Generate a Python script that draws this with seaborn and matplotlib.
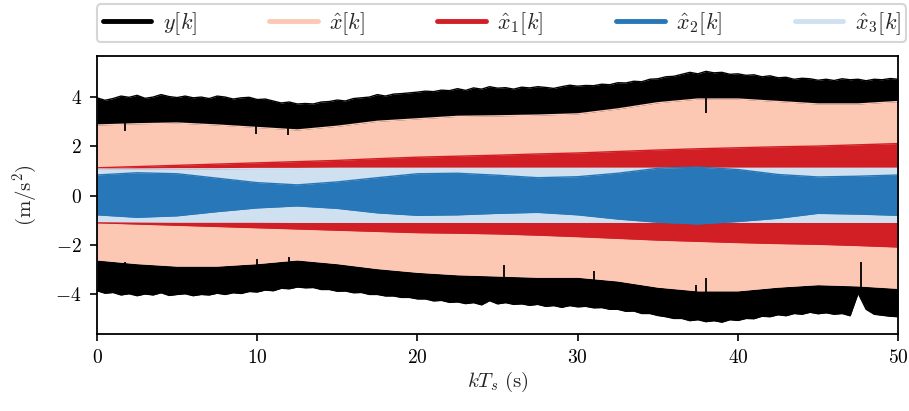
import numpy as np
import matplotlib
matplotlib.use("Agg")
import matplotlib.pyplot as plt
from matplotlib.lines import Line2D
import seaborn as sns

# ---------------- data (envelopes) ----------------
# measured signal y[k]: envelope sampled every 0.5 s
t_y = np.arange(0, 50.01, 0.5)
y_upper = [3.95, 3.85, 3.92, 4.02, 3.97, 4.05, 3.93, 3.98, 4.08, 4.0, 3.96,
           4.02, 3.95, 3.98, 3.92, 4.02, 3.98, 3.9, 3.95, 3.97, 3.88,
           3.9, 3.82, 3.74, 3.78, 3.7, 3.72, 3.7, 3.78, 3.8, 3.86,
           3.82, 3.92, 3.95, 3.98, 4.08, 4.02, 4.1, 4.12, 4.15, 4.18,
           4.22, 4.2, 4.26, 4.24, 4.32, 4.25, 4.35, 4.3, 4.4, 4.34,
           4.36, 4.3, 4.38, 4.35, 4.4, 4.37, 4.33, 4.4, 4.46, 4.42,
           4.45, 4.44, 4.5, 4.48, 4.56, 4.55, 4.62, 4.6, 4.7, 4.72,
           4.8, 4.82, 4.9, 4.98, 4.92, 5.02, 4.96, 4.98, 4.9, 4.92,
           4.86, 4.88, 4.8, 4.84, 4.76, 4.78, 4.7, 4.74, 4.72, 4.66,
           4.7, 4.65, 4.72, 4.68, 4.7, 4.64, 4.7, 4.68, 4.73, 4.7]
y_lower = [-3.85, -3.95, -3.92, -4.02, -3.97, -4.05, -3.98, -4.02, -3.93, -4.04, -4.0,
           -3.97, -4.05, -4.0, -4.02, -3.95, -4.0, -3.93, -3.96, -3.88, -3.9,
           -3.82, -3.85, -3.75, -3.77, -3.7, -3.73, -3.72, -3.8, -3.8, -3.87,
           -3.86, -3.93, -3.92, -4.0, -4.0, -4.06, -4.06, -4.12, -4.12, -4.18,
           -4.18, -4.26, -4.24, -4.32, -4.3, -4.37, -4.33, -4.42, -4.25, -4.38,
           -4.33, -4.4, -4.38, -4.44, -4.4, -4.48, -4.45, -4.52, -4.45, -4.5,
           -4.48, -4.54, -4.53, -4.6, -4.6, -4.68, -4.67, -4.77, -4.77, -4.85,
           -4.9, -4.97, -4.97, -5.06, -5.02, -5.1, -5.06, -5.12, -5.02, -5.05,
           -4.97, -4.98, -4.88, -4.9, -4.82, -4.86, -4.77, -4.8, -4.72, -4.78,
           -4.74, -4.8, -4.77, -4.86, -3.95, -4.6, -4.8, -4.84, -4.88, -4.9]
# short transients of y[k] reaching into the x_hat band
spike_t = [1.75, 9.9, 11.9, 38.0, 1.75, 10.0, 12.0, 25.4, 31.0, 37.4, 38.0, 47.7]
spike_tip = [2.6, 2.5, 2.45, 3.35, -2.7, -2.55, -2.5, -2.8, -3.05, -3.6, -3.35, -2.7]

# estimates, envelope sampled every 2.5 s
t_e = np.arange(0, 50.01, 2.5)
xh_upper = [2.85, 2.9, 2.93, 2.85, 2.75, 2.65, 2.8, 3.0, 3.1, 3.2, 3.22,
            3.25, 3.3, 3.5, 3.75, 3.9, 3.9, 3.8, 3.7, 3.7, 3.8]
xh_lower = [-2.6, -2.75, -2.85, -2.85, -2.75, -2.6, -2.75, -2.95, -3.1, -3.2, -3.25,
            -3.3, -3.3, -3.45, -3.7, -3.85, -3.85, -3.7, -3.6, -3.65, -3.75]
x1_upper = [1.12, 1.17, 1.22, 1.27, 1.32, 1.37, 1.42, 1.49, 1.55, 1.59, 1.63,
            1.68, 1.72, 1.78, 1.84, 1.89, 1.93, 1.97, 2.0, 2.05, 2.1]
x1_lower = [-1.1, -1.15, -1.2, -1.25, -1.3, -1.35, -1.4, -1.45, -1.5, -1.52, -1.55,
            -1.6, -1.66, -1.73, -1.8, -1.85, -1.9, -1.94, -1.97, -2.02, -2.08]
x2_upper = [0.83, 0.92, 0.88, 0.7, 0.52, 0.43, 0.55, 0.72, 0.88, 0.9, 0.82,
            0.72, 0.76, 0.9, 1.1, 1.15, 1.05, 0.85, 0.75, 0.78, 0.83]
x2_lower = [-0.78, -0.88, -0.82, -0.65, -0.5, -0.42, -0.52, -0.7, -0.8, -0.78, -0.72,
            -0.68, -0.78, -0.95, -1.08, -1.15, -1.05, -0.92, -0.72, -0.75, -0.8]
x3_upper = [1.07, 1.07, 1.08, 1.08, 1.09, 1.09, 1.1, 1.1, 1.1, 1.1, 1.1,
            1.1, 1.1, 1.1, 1.1, 1.1, 1.1, 1.1, 1.1, 1.1, 1.1]
x3_lower = [-1.05, -1.06, -1.07, -1.07, -1.07, -1.08, -1.08, -1.08, -1.08, -1.08, -1.08,
            -1.08, -1.08, -1.08, -1.08, -1.08, -1.08, -1.08, -1.08, -1.08, -1.08]

labels = [r"$y[k]$", r"$\hat{x}[k]$", r"$\hat{x}_1[k]$", r"$\hat{x}_2[k]$", r"$\hat{x}_3[k]$"]
colors = ["#000000", "#fcc8b3", "#d11f25", "#2877b8", "#cfe1f0"]

# ---------------- style ----------------
sns.set_theme(style="ticks")
plt.rcParams["font.family"] = ["DejaVu Serif"]
plt.rcParams["mathtext.fontset"] = "cm"
plt.rcParams["axes.edgecolor"] = "black"
plt.rcParams["axes.linewidth"] = 1.3

fig = plt.figure(figsize=(9.09, 4.11), dpi=100)
ax = fig.add_axes([0.1067, 0.1873, 0.8814, 0.6764])

series = [
    (t_y, y_upper, y_lower, colors[0], 1),
    (t_e, xh_upper, xh_lower, colors[1], 2),
    (t_e, x1_upper, x1_lower, colors[2], 4),
    (t_e, x3_upper, x3_lower, colors[4], 5),
    (t_e, x2_upper, x2_lower, colors[3], 6),
]
for tt, up, lo, c, z in series:
    ax.fill_between(tt, lo, up, color=c, lw=0, zorder=z)
    sns.lineplot(x=tt, y=up, ax=ax, color=c, lw=1.0, zorder=z)
    sns.lineplot(x=tt, y=lo, ax=ax, color=c, lw=1.0, zorder=z)

tips = np.array(spike_tip)
ax.vlines(spike_t, tips, tips + np.sign(tips) * 1.0, color="black", lw=1.3, zorder=3)

ax.set_xlim(0, 50)
ax.set_ylim(-5.6, 5.64)
ax.set_xticks([0, 10, 20, 30, 40, 50])
ax.set_yticks([-4, -2, 0, 2, 4])
ax.set_xticklabels([f"${v}$" for v in [0, 10, 20, 30, 40, 50]], fontsize=14)
ax.set_yticklabels([f"${v}$" for v in [-4, -2, 0, 2, 4]], fontsize=14)
ax.tick_params(direction="out", length=5, width=1.2, colors="black", pad=6)
for s in ax.spines.values():
    s.set_visible(True)
    s.set_zorder(10)
ax.set_xlabel(r"$kT_s\ \mathrm{(s)}$", fontsize=15, labelpad=2)
ax.set_ylabel(r"$\mathrm{(m/s^2)}$", fontsize=15, labelpad=12)

handles = [Line2D([0], [0], color=c, lw=3.5) for c in colors]
leg = ax.legend(handles, labels, loc="lower left", bbox_to_anchor=(0.0, 1.05, 1.01, 0.13),
                mode="expand", ncol=5, fontsize=16, frameon=True, fancybox=True,
                handlelength=2.2, handletextpad=0.5, borderaxespad=0.0, borderpad=0.25)
leg.get_frame().set_edgecolor("#cccccc")
leg.get_frame().set_linewidth(1.5)

fig.savefig("out.png", dpi=100)
